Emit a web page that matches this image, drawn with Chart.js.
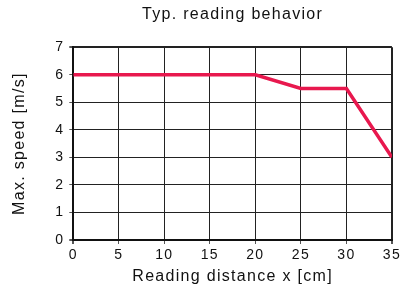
<!DOCTYPE html>
<html>
<head>
<meta charset="utf-8">
<script src="https://cdn.jsdelivr.net/npm/chart.js@4"></script>
<style>
  html, body { margin: 0; padding: 0; background: #fff; }
  #wrap { width: 404px; height: 295px; }
</style>
</head>
<body>
<div id="wrap"><canvas id="myChart" width="404" height="295"></canvas></div>
<script>
const distance = [0, 20, 25, 30, 35];
const speed = [6, 6, 5.5, 5.5, 3];
const xTicks = [0, 5, 10, 15, 20, 25, 30, 35];
const yTicks = [0, 1, 2, 3, 4, 5, 6, 7];

const font = 'Liberation Sans, Arial, Helvetica, sans-serif';

// reference text is set a bit wider than plain Arial,
// and the title is centred over the plot, not the canvas
const tweaks = {
    id: 'tweaks',
    beforeLayout(chart) { chart.ctx.letterSpacing = '1.3px'; },
    afterLayout(chart) {
        chart.titleBlock.left = chart.chartArea.left;
        chart.titleBlock.right = chart.chartArea.right;
    },
    beforeDraw(chart) { chart.ctx.letterSpacing = '1.3px'; }
};

function edgeWidth(c, max) {
    if (c.tick && (c.tick.value === 0 || c.tick.value === max)) return 2;
    return 1;
}

const ctx = document.getElementById('myChart').getContext('2d');
const myChart = new Chart(ctx, {
    type: 'line',
    data: {
        datasets: [{
            label: 'Max. speed',
            data: distance.map((d, i) => ({ x: d, y: speed[i] })),
            borderColor: '#e8184e',
            borderWidth: 3.5,
            pointRadius: 0,
            tension: 0,
            fill: false
        }]
    },
    options: {
        responsive: false,
        animation: false,
        layout: { padding: { top: 4, right: 6, left: 6, bottom: 5 } },
        plugins: {
            legend: { display: false },
            tooltip: { enabled: false },
            title: {
                display: true,
                text: 'Typ. reading behavior',
                color: '#111',
                font: { family: font, size: 16, weight: 'normal' },
                padding: { top: 1, bottom: 23 }
            }
        },
        scales: {
            x: {
                type: 'linear',
                min: 0,
                max: 35,
                afterBuildTicks: axis => { axis.ticks = xTicks.map(v => ({ value: v })); },
                ticks: {
                    color: '#111',
                    font: { family: font, size: 14 },
                    padding: 3
                },
                grid: {
                    color: '#222',
                    lineWidth: c => edgeWidth(c, 35),
                    drawTicks: true,
                    tickLength: 4,
                    tickColor: '#555'
                },
                border: { color: '#111', width: 2 },
                title: {
                    display: true,
                    text: 'Reading distance x [cm]',
                    color: '#111',
                    font: { family: font, size: 16 },
                    padding: { top: 0 }
                }
            },
            y: {
                min: 0,
                max: 7,
                afterBuildTicks: axis => { axis.ticks = yTicks.map(v => ({ value: v })); },
                ticks: {
                    color: '#111',
                    font: { family: font, size: 14 },
                    padding: 5
                },
                grid: {
                    color: '#222',
                    lineWidth: c => edgeWidth(c, 7),
                    drawTicks: true,
                    tickLength: 4,
                    tickColor: '#555'
                },
                border: { color: '#111', width: 2 },
                title: {
                    display: true,
                    text: 'Max. speed [m/s]',
                    color: '#111',
                    font: { family: font, size: 16 },
                    padding: { bottom: 21 }
                }
            }
        }
    },
    plugins: [tweaks]
});
</script>
</body>
</html>
